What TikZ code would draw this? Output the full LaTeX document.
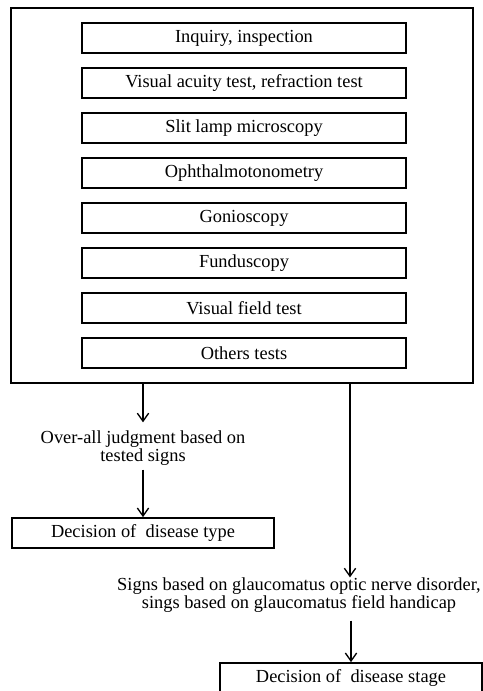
\documentclass[tikz,border=0pt]{standalone}
\usepackage{fontspec}
\setmainfont{Liberation Serif}
\usetikzlibrary{arrows.meta}

\begin{document}
\begin{tikzpicture}[x=0.75pt, y=-0.75pt, >={Straight Barb[length=6pt,width=8.5pt]},
    testbox/.style={draw, line width=1.3pt, minimum width=243pt, minimum height=22.5pt, inner sep=0pt},
    decbox/.style={draw, line width=1.3pt, minimum width=197pt, minimum height=22.5pt, inner sep=0pt},
    note/.style={align=center, inner sep=0pt}]
         \useasboundingbox (0,0) rectangle (482,691);
         \fontsize{13.8}{13.5}\selectfont
         \draw[line width=1.3pt] (11,8) rectangle (473,383);
         \coordinate (outl) at (143,383);
         \coordinate (outr) at (350,383);
         \node[testbox] (inq) at (244,38) {Inquiry, inspection};
         \node[testbox] (acu) at (244,83) {Visual acuity test, refraction test};
         \node[testbox] (slit) at (244,128) {Slit lamp microscopy};
         \node[testbox] (oph) at (244,173) {Ophthalmotonometry};
         \node[testbox] (gon) at (244,218) {Gonioscopy};
         \node[testbox] (fun) at (244,263) {Funduscopy};
         \node[testbox] (vis) at (244,308) {Visual field test};
         \node[testbox] (oth) at (244,353) {Others tests};
         \node[note, font=\fontsize{13.8}{12.5}\selectfont] (judg) at (143,448) {Over-all judgment based on\\tested signs};
         \node[decbox] (type) at (143,533) {Decision of\ \ disease type};
         \node[note] (signs) at (299,595) {Signs based on glaucomatus optic nerve disorder,\\sings based on glaucomatus field handicap};
         \node[decbox] (stage) at (351,678) {Decision of\ \ disease stage};
         \draw[->, line width=1pt, shorten >=6pt] (outl) -- (outl |- judg.north);
         \draw[->, line width=1pt, shorten <=3pt] (judg.south -| type) -- (type.north);
         \draw[->, line width=1pt] (outr) -- (outr |- signs.north);
         \draw[->, line width=1pt, shorten <=6pt] (signs.south -| stage) -- (stage.north);
\end{tikzpicture}
\end{document}
